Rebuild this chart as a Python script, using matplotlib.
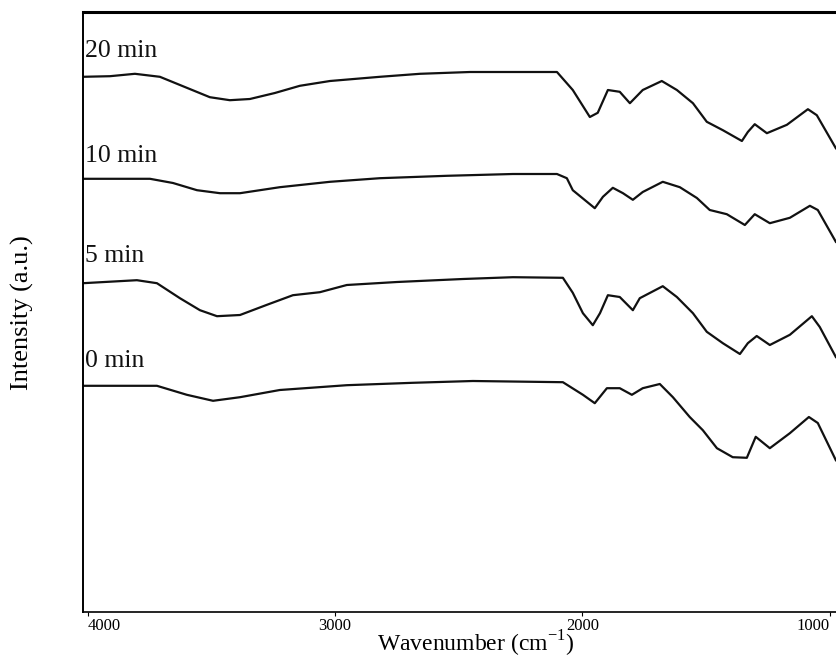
import matplotlib
matplotlib.use("Agg")
import matplotlib.pyplot as plt

plt.rcParams["font.family"] = ["Liberation Serif", "DejaVu Serif"]

# wavenumber (cm-1) / intensity (a.u.), top to bottom
wn_20 = [4020, 3911, 3810, 3709, 3608, 3507, 3426, 3345, 3244, 3143, 3021, 2819, 2657, 2455, 2253, 2103,
         2039, 1970, 1938, 1897, 1849, 1808, 1756, 1679, 1618, 1553, 1497, 1432, 1355, 1331, 1303, 1254,
         1173, 1088, 1052, 975]
i_20 = [89.2, 89.3, 89.7, 89.2, 87.5, 85.8, 85.3, 85.5, 86.5, 87.7, 88.5, 89.2, 89.7, 90.0, 90.0, 90.0,
        87.0, 82.5, 83.2, 87.0, 86.7, 84.8, 87.0, 88.5, 87.0, 84.8, 81.7, 80.3, 78.5, 80.0, 81.3, 79.8,
        81.2, 83.8, 82.8, 77.3]

wn_10 = [4020, 3749, 3656, 3559, 3466, 3385, 3224, 3021, 2819, 2548, 2281, 2103, 2063, 2039, 1950, 1917,
         1877, 1836, 1796, 1756, 1675, 1606, 1537, 1485, 1416, 1343, 1303, 1242, 1161, 1080, 1048, 975]
i_10 = [72.2, 72.2, 71.5, 70.3, 69.8, 69.8, 70.8, 71.7, 72.3, 72.7, 73.0, 73.0, 72.3, 70.3, 67.3, 69.2,
        70.7, 69.8, 68.7, 70.0, 71.7, 70.8, 69.0, 67.0, 66.3, 64.5, 66.3, 64.8, 65.7, 67.7, 67.0, 61.7]

wn_5 = [4020, 3802, 3721, 3628, 3547, 3478, 3385, 3276, 3171, 3062, 2953, 2750, 2483, 2281, 2079, 2039,
        1998, 1958, 1929, 1897, 1849, 1796, 1768, 1675, 1618, 1553, 1497, 1432, 1363, 1331, 1295, 1242,
        1161, 1072, 1040, 975]
i_5 = [54.8, 55.3, 54.8, 52.3, 50.3, 49.3, 49.5, 51.2, 52.8, 53.3, 54.5, 55.0, 55.5, 55.8, 55.7, 53.2,
       49.8, 47.8, 49.8, 52.8, 52.5, 50.3, 52.3, 54.3, 52.5, 49.8, 46.7, 44.8, 43.0, 44.8, 46.0, 44.5,
       46.2, 49.3, 47.5, 42.5]

wn_0 = [4020, 3721, 3600, 3494, 3385, 3224, 2953, 2686, 2443, 2079, 1998, 1950, 1901, 1849, 1800, 1756,
        1687, 1634, 1566, 1513, 1456, 1392, 1335, 1299, 1242, 1161, 1084, 1048, 975]
i_0 = [37.7, 37.7, 36.2, 35.2, 35.8, 37.0, 37.8, 38.2, 38.5, 38.3, 36.2, 34.8, 37.3, 37.3, 36.2, 37.3,
       38.0, 35.8, 32.5, 30.3, 27.3, 25.8, 25.7, 29.2, 27.3, 29.8, 32.5, 31.5, 25.3]

series = [("20 min", wn_20, i_20, 92.5),
          ("10 min", wn_10, i_10, 75.0),
          ("5 min", wn_5, i_5, 58.3),
          ("0 min", wn_0, i_0, 40.8)]

x_ticks = [4000, 3000, 2000, 1000]

fig = plt.figure(figsize=(8.36, 6.59), dpi=100)
# right part of the axes runs past the edge of the picture, as in the scan
ax = fig.add_axes([83 / 836, 47 / 659, 895 / 836, 600 / 659])

for name, wn, inten, label_y in series:
    ax.plot(wn, inten, color="#111111", lw=1.6)
    ax.text(4012, label_y, name, fontsize=18.5, ha="left", va="baseline", color="#111111")

ax.set_xlim(4020, 400)
ax.set_ylim(0, 100)
ax.set_xticks(x_ticks)
ax.set_xticklabels([str(t) for t in x_ticks])
ax.set_yticks([])
ax.tick_params(axis="x", direction="out", length=3, labelsize=12, pad=1)
# first and last labels sit inside the frame like in the scan
labels = ax.get_xticklabels()
labels[0].set_horizontalalignment("left")
labels[-1].set_horizontalalignment("right")
ax.spines["right"].set_visible(False)
ax.spines["top"].set_linewidth(2.2)
ax.spines["left"].set_linewidth(1.4)
ax.spines["bottom"].set_linewidth(1.2)

fig.text(476 / 836, 1 - 644 / 659, "Wavenumber (cm$^{\\mathregular{-1}}$)", fontsize=17,
         ha="center", va="center")
fig.text(22 / 836, 1 - 313 / 659, "Intensity (a.u.)", fontsize=19, rotation=90,
         ha="center", va="center")

fig.savefig("out.png", dpi=100)
